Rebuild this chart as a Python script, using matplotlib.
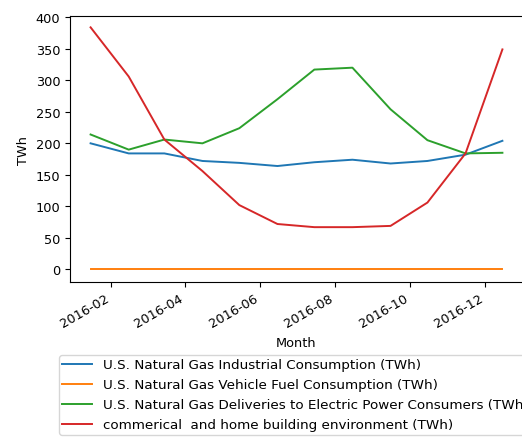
import numpy as np
import pandas as pd
import matplotlib
matplotlib.use('Agg')
import matplotlib.pyplot as plt
import matplotlib.dates as mdates

plt.rcParams['font.size'] = 9.3

months = pd.to_datetime(['2016-01-15', '2016-02-15', '2016-03-15', '2016-04-15',
                         '2016-05-15', '2016-06-15', '2016-07-15', '2016-08-15',
                         '2016-09-15', '2016-10-15', '2016-11-15', '2016-12-15'])

industrial = [200, 184, 184, 172, 169, 164, 170, 174, 168, 172, 182, 204]
vehicle = [1.3, 1.3, 1.3, 1.3, 1.3, 1.3, 1.3, 1.3, 1.3, 1.3, 1.3, 1.3]
electric = [214, 190, 206, 200, 224, 270, 317, 320, 254, 205, 184, 185]
commercial = [384, 306, 206, 156, 102, 72, 67, 67, 69, 106, 184, 349]

labels = ['U.S. Natural Gas Industrial Consumption (TWh)',
          'U.S. Natural Gas Vehicle Fuel Consumption (TWh)',
          'U.S. Natural Gas Deliveries to Electric Power Consumers (TWh)',
          'commerical  and home building environment (TWh)']

fig = plt.figure(figsize=(5.22, 4.39), dpi=100)
ax = fig.add_axes([70 / 522, 156 / 439, 453 / 522, 266 / 439])

for series, lab in zip([industrial, vehicle, electric, commercial], labels):
    ax.plot(months, series, label=lab, lw=1.4)

ax.xaxis.set_major_locator(mdates.MonthLocator(bymonth=[2, 4, 6, 8, 10, 12]))
ax.xaxis.set_major_formatter(mdates.DateFormatter('%Y-%m'))
for t in ax.get_xticklabels():
    t.set_rotation(30)
    t.set_ha('right')

ax.set_ylim(-20, 402)
ax.set_ylabel('TWh')
ax.set_xlabel('Month')

fig.legend(loc='upper left', bbox_to_anchor=(59 / 522, 1 - 356 / 439),
           borderaxespad=0, borderpad=0.25, labelspacing=0.52,
           handlelength=2.2, fontsize=9.7)

fig.savefig('out.png', dpi=100)
